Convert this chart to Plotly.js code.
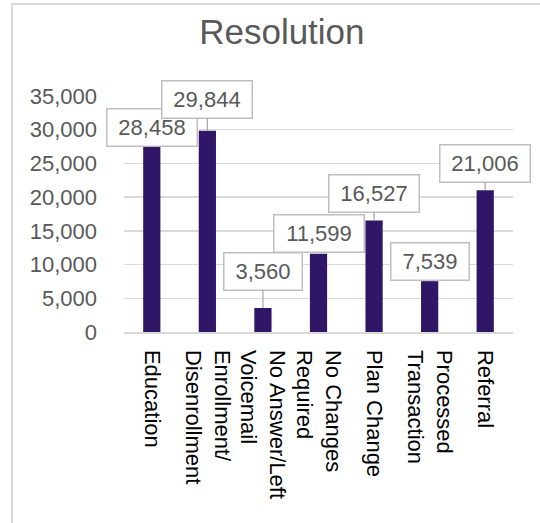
<!DOCTYPE html>
<html>
<head>
<meta charset="utf-8">
<script src="https://cdn.plot.ly/plotly-3.0.1.min.js"></script>
<style>html,body{margin:0;padding:0;background:#fff;}#chart{width:540px;height:523px;}</style>
</head>
<body>
<div id="chart"></div>
<script>
const categories = ["Education", "Enrollment/<br>Disenrollment", "No Answer/Left<br>Voicemail", "No Changes<br>Required", "Plan Change", "Processed<br>Transaction", "Referral"];
const values = [28458, 29844, 3560, 11599, 16527, 7539, 21006];
const yTicks = [0, 5000, 10000, 15000, 20000, 25000, 30000, 35000];

// label box vertical offsets (px, from bar top to box centre)
const labelOffsets = [-13, -31, -37, -20, -27, -20, -27];

const FONT = "Liberation Sans, Arial, sans-serif";
const GREY = "#595959";

const annotations = values.map((v, i) => {
  const txt = v.toLocaleString("en-US");
  const digits = txt.replace(/,/g, "").length;
  const commas = txt.length - digits;
  const w = Math.round(digits * 12.2 + commas * 6.1 + 10);
  const off = labelOffsets[i];
  return {
    x: i, y: v, xref: "x", yref: "y",
    text: txt, showarrow: true, ax: 0, ay: off,
    arrowhead: 0, arrowwidth: 1.2, standoff: 0,
    arrowcolor: Math.abs(off) > 21 ? "#A6A6A6" : "rgba(0,0,0,0)",
    bgcolor: "#ffffff", bordercolor: "#BFBFBF", borderwidth: 1.5, borderpad: 6,
    width: w, height: 24,
    font: {family: FONT, size: 22, color: GREY}
  };
});

const trace = {
  type: "bar", x: categories, y: values,
  marker: {color: "#2F1667"},
  hoverinfo: "skip"
};

const layout = {
  width: 540, height: 523,
  margin: {l: 124, r: 27, t: 96, b: 191, autoexpand: false},
  paper_bgcolor: "#ffffff", plot_bgcolor: "#ffffff",
  bargap: 0.69,
  showlegend: false,
  font: {family: FONT},
  title: {text: "Resolution", font: {family: FONT, size: 35, color: GREY},
          x: 0.522, xref: "container", y: 0.94, yref: "container", yanchor: "middle", automargin: false},
  xaxis: {
    type: "category", range: [-0.5, categories.length - 0.5], automargin: false,
    tickangle: 90, tickfont: {family: FONT, size: 22, color: "#000000"},
    showline: true, linecolor: "#D9D9D9", linewidth: 1.5, showgrid: false,
    ticks: "", ticklabelstandoff: 12, fixedrange: true
  },
  yaxis: {
    range: [0, 35000], automargin: false, tickvals: yTicks, ticktext: yTicks.map(t => t.toLocaleString("en-US")),
    tickfont: {family: FONT, size: 22, color: GREY},
    showgrid: true, gridcolor: "#D9D9D9", gridwidth: 1.5, zeroline: false, showline: false,
    ticks: "", ticklabelstandoff: 26, fixedrange: true
  },
  annotations: annotations,
  shapes: [{
    type: "rect", xref: "paper", yref: "paper",
    x0: (12 - 124) / 389, x1: (545 - 124) / 389,
    y0: (332 - 540) / 236, y1: (332 - 4) / 236,
    line: {color: "#D9D9D9", width: 2}, fillcolor: "rgba(0,0,0,0)", layer: "below"
  }]
};

Plotly.newPlot("chart", [trace], layout, {displayModeBar: false, staticPlot: true});
</script>
</body>
</html>
